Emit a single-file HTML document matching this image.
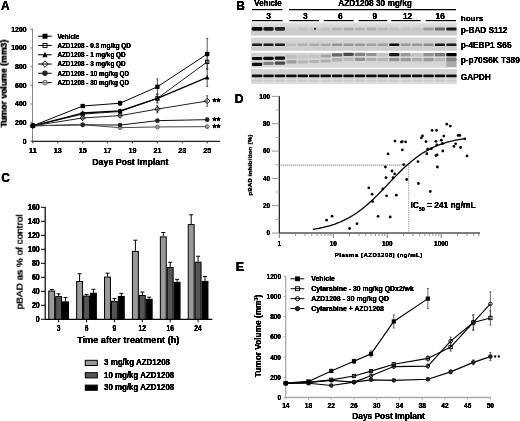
<!DOCTYPE html>
<html><head><meta charset="utf-8"><style>
html,body{margin:0;padding:0;background:#fff;}
svg{display:block;filter:blur(0.35px);}
text{font-family:"Liberation Sans", sans-serif;filter:url(#emb);}
</style></head><body>
<svg width="520" height="421" viewBox="0 0 520 421" font-family='"Liberation Sans", sans-serif'>
<defs>
<linearGradient id="sg0" x1="0" y1="0" x2="0" y2="1"><stop offset="0" stop-color="#e2e2e2"/><stop offset="0.6" stop-color="#cdcdcd"/><stop offset="1" stop-color="#c8c8c8"/></linearGradient>
<linearGradient id="sg1" x1="0" y1="0" x2="0" y2="1"><stop offset="0" stop-color="#d6d6d6"/><stop offset="1" stop-color="#cdcdcd"/></linearGradient>
<linearGradient id="sg2" x1="0" y1="0" x2="0" y2="1"><stop offset="0" stop-color="#d2d2d2"/><stop offset="1" stop-color="#d8d8d8"/></linearGradient>
<linearGradient id="sg3" x1="0" y1="0" x2="0" y2="1"><stop offset="0" stop-color="#cfcfcf"/><stop offset="1" stop-color="#dcdcdc"/></linearGradient>
<filter id="emb" x="-5%" y="-20%" width="110%" height="140%"><feGaussianBlur in="SourceAlpha" stdDeviation="0.3"/><feComponentTransfer><feFuncA type="linear" slope="1.7" intercept="0"/></feComponentTransfer><feComposite in2="SourceAlpha" operator="over"/></filter>
<filter id="blur" x="-5%" y="-50%" width="110%" height="200%"><feGaussianBlur stdDeviation="0.6"/></filter></defs>
<rect width="520" height="421" fill="#fff"/>
<text x="1.00" y="9.60" font-size="12" text-anchor="start" font-weight="bold" fill="#000" >A</text>
<line x1="32.50" y1="28.60" x2="32.50" y2="141.30" stroke="#777" stroke-width="0.9" />
<line x1="30.30" y1="141.30" x2="32.50" y2="141.30" stroke="#777" stroke-width="0.9" />
<text x="26.60" y="143.70" font-size="6.9" text-anchor="end" font-weight="bold" fill="#000" >0</text>
<line x1="30.30" y1="122.63" x2="32.50" y2="122.63" stroke="#777" stroke-width="0.9" />
<text x="26.60" y="125.03" font-size="6.9" text-anchor="end" font-weight="bold" fill="#000" >200</text>
<line x1="30.30" y1="103.97" x2="32.50" y2="103.97" stroke="#777" stroke-width="0.9" />
<text x="26.60" y="106.37" font-size="6.9" text-anchor="end" font-weight="bold" fill="#000" >400</text>
<line x1="30.30" y1="85.30" x2="32.50" y2="85.30" stroke="#777" stroke-width="0.9" />
<text x="26.60" y="87.70" font-size="6.9" text-anchor="end" font-weight="bold" fill="#000" >600</text>
<line x1="30.30" y1="66.64" x2="32.50" y2="66.64" stroke="#777" stroke-width="0.9" />
<text x="26.60" y="69.04" font-size="6.9" text-anchor="end" font-weight="bold" fill="#000" >800</text>
<line x1="30.30" y1="47.97" x2="32.50" y2="47.97" stroke="#777" stroke-width="0.9" />
<text x="26.60" y="50.37" font-size="6.9" text-anchor="end" font-weight="bold" fill="#000" >1000</text>
<line x1="30.30" y1="29.30" x2="32.50" y2="29.30" stroke="#777" stroke-width="0.9" />
<text x="26.60" y="31.70" font-size="6.9" text-anchor="end" font-weight="bold" fill="#000" >1200</text>
<line x1="31.50" y1="141.30" x2="220.20" y2="141.30" stroke="#222" stroke-width="1.2" />
<line x1="32.90" y1="141.30" x2="32.90" y2="143.40" stroke="#222" stroke-width="0.9" />
<text x="32.90" y="152.80" font-size="7.2" text-anchor="middle" font-weight="bold" fill="#000" >11</text>
<line x1="57.80" y1="141.30" x2="57.80" y2="143.40" stroke="#222" stroke-width="0.9" />
<text x="57.80" y="152.80" font-size="7.2" text-anchor="middle" font-weight="bold" fill="#000" >13</text>
<line x1="82.70" y1="141.30" x2="82.70" y2="143.40" stroke="#222" stroke-width="0.9" />
<text x="82.70" y="152.80" font-size="7.2" text-anchor="middle" font-weight="bold" fill="#000" >15</text>
<line x1="107.60" y1="141.30" x2="107.60" y2="143.40" stroke="#222" stroke-width="0.9" />
<text x="107.60" y="152.80" font-size="7.2" text-anchor="middle" font-weight="bold" fill="#000" >17</text>
<line x1="132.50" y1="141.30" x2="132.50" y2="143.40" stroke="#222" stroke-width="0.9" />
<text x="132.50" y="152.80" font-size="7.2" text-anchor="middle" font-weight="bold" fill="#000" >19</text>
<line x1="157.40" y1="141.30" x2="157.40" y2="143.40" stroke="#222" stroke-width="0.9" />
<text x="157.40" y="152.80" font-size="7.2" text-anchor="middle" font-weight="bold" fill="#000" >21</text>
<line x1="182.30" y1="141.30" x2="182.30" y2="143.40" stroke="#222" stroke-width="0.9" />
<text x="182.30" y="152.80" font-size="7.2" text-anchor="middle" font-weight="bold" fill="#000" >23</text>
<line x1="207.20" y1="141.30" x2="207.20" y2="143.40" stroke="#222" stroke-width="0.9" />
<text x="207.20" y="152.80" font-size="7.2" text-anchor="middle" font-weight="bold" fill="#000" >25</text>
<text x="130.40" y="164.80" font-size="8.8" text-anchor="middle" font-weight="bold" fill="#000" >Days Post Implant</text>
<text x="0.00" y="0.00" font-size="8.7" text-anchor="middle" font-weight="bold" fill="#000" transform="translate(6.7,83.6) rotate(-90)">Tumor volume (mm3)</text>
<line x1="82.70" y1="104.71" x2="82.70" y2="107.33" stroke="#444" stroke-width="0.9" />
<line x1="81.70" y1="104.71" x2="83.70" y2="104.71" stroke="#444" stroke-width="0.9" />
<line x1="81.70" y1="107.33" x2="83.70" y2="107.33" stroke="#444" stroke-width="0.9" />
<line x1="120.05" y1="101.17" x2="120.05" y2="105.27" stroke="#444" stroke-width="0.9" />
<line x1="119.05" y1="101.17" x2="121.05" y2="101.17" stroke="#444" stroke-width="0.9" />
<line x1="119.05" y1="105.27" x2="121.05" y2="105.27" stroke="#444" stroke-width="0.9" />
<line x1="157.40" y1="78.86" x2="157.40" y2="94.73" stroke="#444" stroke-width="0.9" />
<line x1="156.40" y1="78.86" x2="158.40" y2="78.86" stroke="#444" stroke-width="0.9" />
<line x1="156.40" y1="94.73" x2="158.40" y2="94.73" stroke="#444" stroke-width="0.9" />
<line x1="207.20" y1="38.36" x2="207.20" y2="69.72" stroke="#444" stroke-width="0.9" />
<line x1="206.20" y1="38.36" x2="208.20" y2="38.36" stroke="#444" stroke-width="0.9" />
<line x1="206.20" y1="69.72" x2="208.20" y2="69.72" stroke="#444" stroke-width="0.9" />
<line x1="82.70" y1="113.11" x2="82.70" y2="114.98" stroke="#444" stroke-width="0.9" />
<line x1="81.70" y1="113.11" x2="83.70" y2="113.11" stroke="#444" stroke-width="0.9" />
<line x1="81.70" y1="114.98" x2="83.70" y2="114.98" stroke="#444" stroke-width="0.9" />
<line x1="120.05" y1="110.22" x2="120.05" y2="112.83" stroke="#444" stroke-width="0.9" />
<line x1="119.05" y1="110.22" x2="121.05" y2="110.22" stroke="#444" stroke-width="0.9" />
<line x1="119.05" y1="112.83" x2="121.05" y2="112.83" stroke="#444" stroke-width="0.9" />
<line x1="157.40" y1="94.64" x2="157.40" y2="102.10" stroke="#444" stroke-width="0.9" />
<line x1="156.40" y1="94.64" x2="158.40" y2="94.64" stroke="#444" stroke-width="0.9" />
<line x1="156.40" y1="102.10" x2="158.40" y2="102.10" stroke="#444" stroke-width="0.9" />
<line x1="207.20" y1="55.34" x2="207.20" y2="68.41" stroke="#444" stroke-width="0.9" />
<line x1="206.20" y1="55.34" x2="208.20" y2="55.34" stroke="#444" stroke-width="0.9" />
<line x1="206.20" y1="68.41" x2="208.20" y2="68.41" stroke="#444" stroke-width="0.9" />
<line x1="82.70" y1="111.90" x2="82.70" y2="114.14" stroke="#444" stroke-width="0.9" />
<line x1="81.70" y1="111.90" x2="83.70" y2="111.90" stroke="#444" stroke-width="0.9" />
<line x1="81.70" y1="114.14" x2="83.70" y2="114.14" stroke="#444" stroke-width="0.9" />
<line x1="120.05" y1="109.66" x2="120.05" y2="112.27" stroke="#444" stroke-width="0.9" />
<line x1="119.05" y1="109.66" x2="121.05" y2="109.66" stroke="#444" stroke-width="0.9" />
<line x1="119.05" y1="112.27" x2="121.05" y2="112.27" stroke="#444" stroke-width="0.9" />
<line x1="157.40" y1="93.70" x2="157.40" y2="103.03" stroke="#444" stroke-width="0.9" />
<line x1="156.40" y1="93.70" x2="158.40" y2="93.70" stroke="#444" stroke-width="0.9" />
<line x1="156.40" y1="103.03" x2="158.40" y2="103.03" stroke="#444" stroke-width="0.9" />
<line x1="207.20" y1="68.60" x2="207.20" y2="86.33" stroke="#444" stroke-width="0.9" />
<line x1="206.20" y1="68.60" x2="208.20" y2="68.60" stroke="#444" stroke-width="0.9" />
<line x1="206.20" y1="86.33" x2="208.20" y2="86.33" stroke="#444" stroke-width="0.9" />
<line x1="82.70" y1="116.85" x2="82.70" y2="119.09" stroke="#444" stroke-width="0.9" />
<line x1="81.70" y1="116.85" x2="83.70" y2="116.85" stroke="#444" stroke-width="0.9" />
<line x1="81.70" y1="119.09" x2="83.70" y2="119.09" stroke="#444" stroke-width="0.9" />
<line x1="120.05" y1="114.33" x2="120.05" y2="116.94" stroke="#444" stroke-width="0.9" />
<line x1="119.05" y1="114.33" x2="121.05" y2="114.33" stroke="#444" stroke-width="0.9" />
<line x1="119.05" y1="116.94" x2="121.05" y2="116.94" stroke="#444" stroke-width="0.9" />
<line x1="157.40" y1="105.37" x2="157.40" y2="112.83" stroke="#444" stroke-width="0.9" />
<line x1="156.40" y1="105.37" x2="158.40" y2="105.37" stroke="#444" stroke-width="0.9" />
<line x1="156.40" y1="112.83" x2="158.40" y2="112.83" stroke="#444" stroke-width="0.9" />
<line x1="207.20" y1="95.75" x2="207.20" y2="106.21" stroke="#444" stroke-width="0.9" />
<line x1="206.20" y1="95.75" x2="208.20" y2="95.75" stroke="#444" stroke-width="0.9" />
<line x1="206.20" y1="106.21" x2="208.20" y2="106.21" stroke="#444" stroke-width="0.9" />
<line x1="82.70" y1="124.03" x2="82.70" y2="125.53" stroke="#444" stroke-width="0.9" />
<line x1="81.70" y1="124.03" x2="83.70" y2="124.03" stroke="#444" stroke-width="0.9" />
<line x1="81.70" y1="125.53" x2="83.70" y2="125.53" stroke="#444" stroke-width="0.9" />
<line x1="120.05" y1="124.31" x2="120.05" y2="125.81" stroke="#444" stroke-width="0.9" />
<line x1="119.05" y1="124.31" x2="121.05" y2="124.31" stroke="#444" stroke-width="0.9" />
<line x1="119.05" y1="125.81" x2="121.05" y2="125.81" stroke="#444" stroke-width="0.9" />
<line x1="157.40" y1="119.74" x2="157.40" y2="121.61" stroke="#444" stroke-width="0.9" />
<line x1="156.40" y1="119.74" x2="158.40" y2="119.74" stroke="#444" stroke-width="0.9" />
<line x1="156.40" y1="121.61" x2="158.40" y2="121.61" stroke="#444" stroke-width="0.9" />
<line x1="207.20" y1="118.53" x2="207.20" y2="120.77" stroke="#444" stroke-width="0.9" />
<line x1="206.20" y1="118.53" x2="208.20" y2="118.53" stroke="#444" stroke-width="0.9" />
<line x1="206.20" y1="120.77" x2="208.20" y2="120.77" stroke="#444" stroke-width="0.9" />
<line x1="82.70" y1="124.03" x2="82.70" y2="125.53" stroke="#444" stroke-width="0.9" />
<line x1="81.70" y1="124.03" x2="83.70" y2="124.03" stroke="#444" stroke-width="0.9" />
<line x1="81.70" y1="125.53" x2="83.70" y2="125.53" stroke="#444" stroke-width="0.9" />
<line x1="120.05" y1="126.93" x2="120.05" y2="128.42" stroke="#444" stroke-width="0.9" />
<line x1="119.05" y1="126.93" x2="121.05" y2="126.93" stroke="#444" stroke-width="0.9" />
<line x1="119.05" y1="128.42" x2="121.05" y2="128.42" stroke="#444" stroke-width="0.9" />
<line x1="157.40" y1="126.18" x2="157.40" y2="127.67" stroke="#444" stroke-width="0.9" />
<line x1="156.40" y1="126.18" x2="158.40" y2="126.18" stroke="#444" stroke-width="0.9" />
<line x1="156.40" y1="127.67" x2="158.40" y2="127.67" stroke="#444" stroke-width="0.9" />
<line x1="207.20" y1="125.71" x2="207.20" y2="127.58" stroke="#444" stroke-width="0.9" />
<line x1="206.20" y1="125.71" x2="208.20" y2="125.71" stroke="#444" stroke-width="0.9" />
<line x1="206.20" y1="127.58" x2="208.20" y2="127.58" stroke="#444" stroke-width="0.9" />
<polyline points="32.90,125.81 82.70,106.02 120.05,103.22 157.40,86.80 207.20,54.04" fill="none" stroke="#000" stroke-width="1.0" stroke-linejoin="round" />
<polyline points="32.90,125.81 82.70,114.05 120.05,111.53 157.40,98.37 207.20,61.88" fill="none" stroke="#222" stroke-width="1.0" stroke-linejoin="round" />
<polyline points="32.90,125.81 82.70,113.02 120.05,110.97 157.40,98.37 207.20,77.46" fill="none" stroke="#000" stroke-width="1.3" stroke-linejoin="round" />
<polyline points="32.90,125.81 82.70,117.97 120.05,115.63 157.40,109.10 207.20,100.98" fill="none" stroke="#222" stroke-width="1.0" stroke-linejoin="round" />
<polyline points="32.90,125.81 82.70,124.78 120.05,125.06 157.40,120.67 207.20,119.65" fill="none" stroke="#111" stroke-width="1.0" stroke-linejoin="round" />
<polyline points="32.90,125.81 82.70,124.78 120.05,127.67 157.40,126.93 207.20,126.65" fill="none" stroke="#444" stroke-width="1.0" stroke-linejoin="round" />
<circle cx="32.90" cy="125.81" r="1.95" fill="#bbb" fill-opacity="0.6" stroke="#555" stroke-width="0.9"/>
<circle cx="82.70" cy="124.78" r="1.95" fill="#bbb" fill-opacity="0.6" stroke="#555" stroke-width="0.9"/>
<circle cx="120.05" cy="127.67" r="1.95" fill="#bbb" fill-opacity="0.6" stroke="#555" stroke-width="0.9"/>
<circle cx="157.40" cy="126.93" r="1.95" fill="#bbb" fill-opacity="0.6" stroke="#555" stroke-width="0.9"/>
<circle cx="207.20" cy="126.65" r="1.95" fill="#bbb" fill-opacity="0.6" stroke="#555" stroke-width="0.9"/>
<circle cx="32.90" cy="125.81" r="2.35" fill="#222"/>
<circle cx="82.70" cy="124.78" r="2.35" fill="#222"/>
<circle cx="120.05" cy="125.06" r="2.35" fill="#222"/>
<circle cx="157.40" cy="120.67" r="2.35" fill="#222"/>
<circle cx="207.20" cy="119.65" r="2.35" fill="#222"/>
<polygon points="32.90,123.09 35.62,125.81 32.90,128.52 30.18,125.81" fill="none" stroke="#000" stroke-width="0.9"/>
<polygon points="82.70,115.25 85.42,117.97 82.70,120.69 79.98,117.97" fill="none" stroke="#000" stroke-width="0.9"/>
<polygon points="120.05,112.92 122.77,115.63 120.05,118.35 117.33,115.63" fill="none" stroke="#000" stroke-width="0.9"/>
<polygon points="157.40,106.38 160.12,109.10 157.40,111.82 154.68,109.10" fill="none" stroke="#000" stroke-width="0.9"/>
<polygon points="207.20,98.26 209.92,100.98 207.20,103.70 204.48,100.98" fill="none" stroke="#000" stroke-width="0.9"/>
<polygon points="32.90,123.12 35.16,127.96 30.64,127.96" fill="#000"/>
<polygon points="82.70,110.33 84.96,115.17 80.44,115.17" fill="#000"/>
<polygon points="120.05,108.28 122.31,113.12 117.79,113.12" fill="#000"/>
<polygon points="157.40,95.68 159.66,100.52 155.14,100.52" fill="#000"/>
<polygon points="207.20,74.77 209.46,79.61 204.94,79.61" fill="#000"/>
<rect x="31.20" y="124.11" width="3.40" height="3.40" fill="none" stroke="#000" stroke-width="0.9"/>
<rect x="81.00" y="112.35" width="3.40" height="3.40" fill="none" stroke="#000" stroke-width="0.9"/>
<rect x="118.35" y="109.83" width="3.40" height="3.40" fill="none" stroke="#000" stroke-width="0.9"/>
<rect x="155.70" y="96.67" width="3.40" height="3.40" fill="none" stroke="#000" stroke-width="0.9"/>
<rect x="205.50" y="60.18" width="3.40" height="3.40" fill="none" stroke="#000" stroke-width="0.9"/>
<rect x="30.75" y="123.66" width="4.30" height="4.30" fill="#000"/>
<rect x="80.55" y="103.87" width="4.30" height="4.30" fill="#000"/>
<rect x="117.90" y="101.07" width="4.30" height="4.30" fill="#000"/>
<rect x="155.25" y="84.65" width="4.30" height="4.30" fill="#000"/>
<rect x="205.05" y="51.89" width="4.30" height="4.30" fill="#000"/>
<text x="212.50" y="105.58" font-size="10" text-anchor="start" font-weight="bold" fill="#000" >**</text>
<text x="212.50" y="125.15" font-size="10" text-anchor="start" font-weight="bold" fill="#000" >**</text>
<text x="212.50" y="131.65" font-size="10" text-anchor="start" font-weight="bold" fill="#000" >**</text>
<line x1="38.10" y1="36.20" x2="51.70" y2="36.20" stroke="#111" stroke-width="1.1" />
<rect x="42.50" y="33.70" width="5.00" height="5.00" fill="#000"/>
<text x="57.40" y="38.50" font-size="6.37" text-anchor="start" font-weight="bold" fill="#000" >Vehicle</text>
<line x1="38.10" y1="45.48" x2="51.70" y2="45.48" stroke="#111" stroke-width="1.1" />
<rect x="42.95" y="43.43" width="4.10" height="4.10" fill="none" stroke="#000" stroke-width="0.9"/>
<text x="57.40" y="47.78" font-size="6.37" text-anchor="start" font-weight="bold" fill="#000" >AZD1208 - 0.3 mg/kg QD</text>
<line x1="38.10" y1="54.76" x2="51.70" y2="54.76" stroke="#111" stroke-width="1.1" />
<polygon points="45.00,51.64 47.62,57.26 42.38,57.26" fill="#000"/>
<text x="57.40" y="57.06" font-size="6.37" text-anchor="start" font-weight="bold" fill="#000" >AZD1208 - 1 mg/kg QD</text>
<line x1="38.10" y1="64.04" x2="51.70" y2="64.04" stroke="#111" stroke-width="1.1" />
<polygon points="45.00,60.81 48.23,64.04 45.00,67.26 41.77,64.04" fill="none" stroke="#000" stroke-width="0.9"/>
<text x="57.40" y="66.34" font-size="6.37" text-anchor="start" font-weight="bold" fill="#000" >AZD1208 - 3 mg/kg QD</text>
<line x1="38.10" y1="73.32" x2="51.70" y2="73.32" stroke="#111" stroke-width="1.1" />
<circle cx="45.00" cy="73.32" r="2.70" fill="#222"/>
<text x="57.40" y="75.62" font-size="6.37" text-anchor="start" font-weight="bold" fill="#000" >AZD1208 - 10 mg/kg QD</text>
<line x1="38.10" y1="82.60" x2="51.70" y2="82.60" stroke="#111" stroke-width="1.1" />
<circle cx="45.00" cy="82.60" r="2.30" fill="#bbb" fill-opacity="0.6" stroke="#555" stroke-width="0.9"/>
<text x="57.40" y="84.90" font-size="6.37" text-anchor="start" font-weight="bold" fill="#000" >AZD1208 - 30 mg/kg QD</text>
<text x="236.20" y="9.60" font-size="12" text-anchor="start" font-weight="bold" fill="#000" >B</text>
<text x="254.30" y="5.90" font-size="8.8" text-anchor="start" font-weight="bold" fill="#000" textLength="27.3" lengthAdjust="spacingAndGlyphs">Vehicle</text>
<text x="338.30" y="5.60" font-size="8.9" text-anchor="start" font-weight="bold" fill="#000" textLength="73.5" lengthAdjust="spacingAndGlyphs">AZD1208 30 mg/kg</text>
<line x1="252.10" y1="9.60" x2="282.50" y2="9.60" stroke="#000" stroke-width="1.2" />
<line x1="288.90" y1="9.60" x2="456.00" y2="9.60" stroke="#000" stroke-width="1.2" />
<text x="268.60" y="19.00" font-size="8.3" text-anchor="middle" font-weight="bold" fill="#000" >3</text>
<line x1="252.10" y1="20.60" x2="282.50" y2="20.60" stroke="#000" stroke-width="1.2" />
<text x="305.20" y="19.00" font-size="8.3" text-anchor="middle" font-weight="bold" fill="#000" >3</text>
<line x1="289.40" y1="20.60" x2="319.00" y2="20.60" stroke="#000" stroke-width="1.2" />
<text x="340.20" y="19.00" font-size="8.3" text-anchor="middle" font-weight="bold" fill="#000" >6</text>
<line x1="323.80" y1="20.60" x2="353.70" y2="20.60" stroke="#000" stroke-width="1.2" />
<text x="374.80" y="19.00" font-size="8.3" text-anchor="middle" font-weight="bold" fill="#000" >9</text>
<line x1="358.50" y1="20.60" x2="387.30" y2="20.60" stroke="#000" stroke-width="1.2" />
<text x="407.50" y="19.00" font-size="8.3" text-anchor="middle" font-weight="bold" fill="#000" >12</text>
<line x1="391.20" y1="20.60" x2="420.70" y2="20.60" stroke="#000" stroke-width="1.2" />
<text x="440.20" y="19.00" font-size="8.3" text-anchor="middle" font-weight="bold" fill="#000" >16</text>
<line x1="425.70" y1="20.60" x2="456.00" y2="20.60" stroke="#000" stroke-width="1.2" />
<text x="460.70" y="21.40" font-size="8.1" text-anchor="start" font-weight="bold" fill="#000" >hours</text>
<text x="460.70" y="32.50" font-size="8.24" text-anchor="start" font-weight="bold" fill="#000" >p-BAD S112</text>
<text x="460.70" y="47.80" font-size="8.24" text-anchor="start" font-weight="bold" fill="#000" >p-4EBP1 S65</text>
<text x="460.70" y="62.60" font-size="8.24" text-anchor="start" font-weight="bold" fill="#000" >p-p70S6K T389</text>
<text x="460.70" y="79.70" font-size="8.3" text-anchor="start" font-weight="bold" fill="#000" >GAPDH</text>
<rect x="251.0" y="22.4" width="205.8" height="13.10" fill="url(#sg0)"/>
<rect x="251.0" y="37.6" width="205.8" height="13.20" fill="url(#sg1)"/>
<rect x="251.0" y="52.8" width="205.8" height="14.80" fill="url(#sg2)"/>
<rect x="251.0" y="69.2" width="205.8" height="14.90" fill="url(#sg3)"/>
<g filter="url(#blur)">
<rect x="251.70" y="27.10" width="10.80" height="3.60" rx="1.44" fill="rgb(0,0,0)" opacity="1.00"/>
<rect x="252.00" y="43.45" width="10.20" height="2.50" rx="1.00" fill="rgb(29,29,29)" opacity="1.00"/>
<rect x="251.90" y="56.90" width="10.40" height="3.20" rx="1.28" fill="rgb(9,9,9)" opacity="1.00"/>
<rect x="251.90" y="62.80" width="10.40" height="3.20" rx="1.28" fill="rgb(9,9,9)" opacity="1.00"/>
<rect x="251.80" y="74.50" width="10.60" height="2.80" rx="1.12" fill="rgb(15,15,15)" opacity="1.00"/>
<rect x="252.10" y="79.70" width="10.00" height="1.80" rx="0.72" fill="rgb(171,171,171)" opacity="0.32"/>
<rect x="263.43" y="27.10" width="10.20" height="3.60" rx="1.44" fill="rgb(29,29,29)" opacity="1.00"/>
<rect x="263.43" y="43.45" width="10.20" height="2.50" rx="1.00" fill="rgb(29,29,29)" opacity="1.00"/>
<rect x="263.33" y="56.80" width="10.40" height="3.20" rx="1.28" fill="rgb(9,9,9)" opacity="1.00"/>
<rect x="263.33" y="61.80" width="10.40" height="3.20" rx="1.28" fill="rgb(97,97,97)" opacity="0.70"/>
<rect x="263.23" y="74.50" width="10.60" height="2.80" rx="1.12" fill="rgb(15,15,15)" opacity="1.00"/>
<rect x="263.53" y="79.70" width="10.00" height="1.80" rx="0.72" fill="rgb(171,171,171)" opacity="0.32"/>
<rect x="274.86" y="27.10" width="10.20" height="3.60" rx="1.44" fill="rgb(39,39,39)" opacity="1.00"/>
<rect x="274.86" y="43.45" width="10.20" height="2.50" rx="1.00" fill="rgb(29,29,29)" opacity="1.00"/>
<rect x="274.76" y="56.60" width="10.40" height="3.20" rx="1.28" fill="rgb(9,9,9)" opacity="1.00"/>
<rect x="274.76" y="61.60" width="10.40" height="3.20" rx="1.28" fill="rgb(58,58,58)" opacity="0.90"/>
<rect x="274.66" y="74.50" width="10.60" height="2.80" rx="1.12" fill="rgb(15,15,15)" opacity="1.00"/>
<rect x="274.96" y="79.70" width="10.00" height="1.80" rx="0.72" fill="rgb(171,171,171)" opacity="0.32"/>
<rect x="286.29" y="27.40" width="10.20" height="3.00" rx="1.20" fill="rgb(189,189,189)" opacity="0.23"/>
<rect x="286.29" y="43.45" width="10.20" height="2.50" rx="1.00" fill="rgb(156,156,156)" opacity="0.40"/>
<rect x="286.19" y="55.20" width="10.40" height="3.20" rx="1.28" fill="rgb(156,156,156)" opacity="0.40"/>
<rect x="286.19" y="60.20" width="10.40" height="3.20" rx="1.28" fill="rgb(117,117,117)" opacity="0.60"/>
<rect x="286.09" y="74.50" width="10.60" height="2.80" rx="1.12" fill="rgb(15,15,15)" opacity="1.00"/>
<rect x="286.39" y="79.70" width="10.00" height="1.80" rx="0.72" fill="rgb(171,171,171)" opacity="0.32"/>
<rect x="297.72" y="27.40" width="10.20" height="3.00" rx="1.20" fill="rgb(171,171,171)" opacity="0.32"/>
<rect x="297.72" y="43.45" width="10.20" height="2.50" rx="1.00" fill="rgb(140,140,140)" opacity="0.48"/>
<rect x="297.62" y="55.20" width="10.40" height="3.20" rx="1.28" fill="rgb(175,175,175)" opacity="0.30"/>
<rect x="297.62" y="60.20" width="10.40" height="3.20" rx="1.28" fill="rgb(146,146,146)" opacity="0.45"/>
<rect x="297.52" y="74.50" width="10.60" height="2.80" rx="1.12" fill="rgb(15,15,15)" opacity="1.00"/>
<rect x="297.82" y="79.70" width="10.00" height="1.80" rx="0.72" fill="rgb(171,171,171)" opacity="0.32"/>
<rect x="309.15" y="27.40" width="10.20" height="3.00" rx="1.20" fill="rgb(175,175,175)" opacity="0.30"/>
<rect x="309.15" y="43.45" width="10.20" height="2.50" rx="1.00" fill="rgb(136,136,136)" opacity="0.50"/>
<rect x="309.05" y="54.90" width="10.40" height="3.20" rx="1.28" fill="rgb(165,165,165)" opacity="0.35"/>
<rect x="309.05" y="59.90" width="10.40" height="3.20" rx="1.28" fill="rgb(146,146,146)" opacity="0.45"/>
<rect x="308.95" y="74.50" width="10.60" height="2.80" rx="1.12" fill="rgb(15,15,15)" opacity="1.00"/>
<rect x="309.25" y="79.70" width="10.00" height="1.80" rx="0.72" fill="rgb(171,171,171)" opacity="0.32"/>
<rect x="320.58" y="27.40" width="10.20" height="3.00" rx="1.20" fill="rgb(171,171,171)" opacity="0.32"/>
<rect x="320.58" y="43.45" width="10.20" height="2.50" rx="1.00" fill="rgb(132,132,132)" opacity="0.52"/>
<rect x="320.48" y="54.40" width="10.40" height="3.20" rx="1.28" fill="rgb(126,126,126)" opacity="0.55"/>
<rect x="320.48" y="59.40" width="10.40" height="3.20" rx="1.28" fill="rgb(136,136,136)" opacity="0.50"/>
<rect x="320.38" y="74.50" width="10.60" height="2.80" rx="1.12" fill="rgb(15,15,15)" opacity="1.00"/>
<rect x="320.68" y="79.70" width="10.00" height="1.80" rx="0.72" fill="rgb(171,171,171)" opacity="0.32"/>
<rect x="332.01" y="27.40" width="10.20" height="3.00" rx="1.20" fill="rgb(146,146,146)" opacity="0.45"/>
<rect x="332.01" y="43.45" width="10.20" height="2.50" rx="1.00" fill="rgb(113,113,113)" opacity="0.62"/>
<rect x="331.91" y="53.30" width="10.40" height="3.20" rx="1.28" fill="rgb(78,78,78)" opacity="0.80"/>
<rect x="331.91" y="58.30" width="10.40" height="3.20" rx="1.28" fill="rgb(136,136,136)" opacity="0.50"/>
<rect x="331.81" y="74.50" width="10.60" height="2.80" rx="1.12" fill="rgb(15,15,15)" opacity="1.00"/>
<rect x="332.11" y="79.70" width="10.00" height="1.80" rx="0.72" fill="rgb(171,171,171)" opacity="0.32"/>
<rect x="343.44" y="27.40" width="10.20" height="3.00" rx="1.20" fill="rgb(136,136,136)" opacity="0.50"/>
<rect x="343.44" y="43.45" width="10.20" height="2.50" rx="1.00" fill="rgb(113,113,113)" opacity="0.62"/>
<rect x="343.34" y="52.80" width="10.40" height="3.20" rx="1.28" fill="rgb(58,58,58)" opacity="0.90"/>
<rect x="343.34" y="57.80" width="10.40" height="3.20" rx="1.28" fill="rgb(146,146,146)" opacity="0.45"/>
<rect x="343.24" y="74.50" width="10.60" height="2.80" rx="1.12" fill="rgb(15,15,15)" opacity="1.00"/>
<rect x="343.54" y="79.70" width="10.00" height="1.80" rx="0.72" fill="rgb(171,171,171)" opacity="0.32"/>
<rect x="354.87" y="27.40" width="10.20" height="3.00" rx="1.20" fill="rgb(146,146,146)" opacity="0.45"/>
<rect x="354.87" y="43.45" width="10.20" height="2.50" rx="1.00" fill="rgb(117,117,117)" opacity="0.60"/>
<rect x="354.77" y="52.80" width="10.40" height="3.20" rx="1.28" fill="rgb(97,97,97)" opacity="0.70"/>
<rect x="354.77" y="57.80" width="10.40" height="3.20" rx="1.28" fill="rgb(107,107,107)" opacity="0.65"/>
<rect x="354.67" y="74.50" width="10.60" height="2.80" rx="1.12" fill="rgb(15,15,15)" opacity="1.00"/>
<rect x="354.97" y="79.70" width="10.00" height="1.80" rx="0.72" fill="rgb(171,171,171)" opacity="0.32"/>
<rect x="366.30" y="27.40" width="10.20" height="3.00" rx="1.20" fill="rgb(140,140,140)" opacity="0.48"/>
<rect x="366.30" y="43.45" width="10.20" height="2.50" rx="1.00" fill="rgb(126,126,126)" opacity="0.55"/>
<rect x="366.20" y="52.90" width="10.40" height="3.20" rx="1.28" fill="rgb(107,107,107)" opacity="0.65"/>
<rect x="366.20" y="57.90" width="10.40" height="3.20" rx="1.28" fill="rgb(136,136,136)" opacity="0.50"/>
<rect x="366.10" y="74.50" width="10.60" height="2.80" rx="1.12" fill="rgb(15,15,15)" opacity="1.00"/>
<rect x="366.40" y="79.70" width="10.00" height="1.80" rx="0.72" fill="rgb(171,171,171)" opacity="0.32"/>
<rect x="377.73" y="27.40" width="10.20" height="3.00" rx="1.20" fill="rgb(152,152,152)" opacity="0.42"/>
<rect x="377.73" y="43.45" width="10.20" height="2.50" rx="1.00" fill="rgb(120,120,120)" opacity="0.58"/>
<rect x="377.63" y="53.00" width="10.40" height="3.20" rx="1.28" fill="rgb(165,165,165)" opacity="0.35"/>
<rect x="377.63" y="58.00" width="10.40" height="3.20" rx="1.28" fill="rgb(146,146,146)" opacity="0.45"/>
<rect x="377.53" y="74.50" width="10.60" height="2.80" rx="1.12" fill="rgb(15,15,15)" opacity="1.00"/>
<rect x="377.83" y="79.70" width="10.00" height="1.80" rx="0.72" fill="rgb(171,171,171)" opacity="0.32"/>
<rect x="389.16" y="27.40" width="10.20" height="3.00" rx="1.20" fill="rgb(165,165,165)" opacity="0.35"/>
<rect x="389.16" y="43.45" width="10.20" height="2.50" rx="1.00" fill="rgb(9,9,9)" opacity="1.00"/>
<rect x="389.06" y="53.10" width="10.40" height="3.20" rx="1.28" fill="rgb(29,29,29)" opacity="1.00"/>
<rect x="389.06" y="58.10" width="10.40" height="3.20" rx="1.28" fill="rgb(107,107,107)" opacity="0.65"/>
<rect x="388.96" y="74.50" width="10.60" height="2.80" rx="1.12" fill="rgb(15,15,15)" opacity="1.00"/>
<rect x="389.26" y="79.70" width="10.00" height="1.80" rx="0.72" fill="rgb(171,171,171)" opacity="0.32"/>
<rect x="400.59" y="27.40" width="10.20" height="3.00" rx="1.20" fill="rgb(175,175,175)" opacity="0.30"/>
<rect x="400.59" y="43.45" width="10.20" height="2.50" rx="1.00" fill="rgb(117,117,117)" opacity="0.60"/>
<rect x="400.49" y="53.10" width="10.40" height="3.20" rx="1.28" fill="rgb(117,117,117)" opacity="0.60"/>
<rect x="400.49" y="58.10" width="10.40" height="3.20" rx="1.28" fill="rgb(117,117,117)" opacity="0.60"/>
<rect x="400.39" y="74.50" width="10.60" height="2.80" rx="1.12" fill="rgb(15,15,15)" opacity="1.00"/>
<rect x="400.69" y="79.70" width="10.00" height="1.80" rx="0.72" fill="rgb(171,171,171)" opacity="0.32"/>
<rect x="412.02" y="27.40" width="10.20" height="3.00" rx="1.20" fill="rgb(175,175,175)" opacity="0.30"/>
<rect x="412.02" y="43.45" width="10.20" height="2.50" rx="1.00" fill="rgb(117,117,117)" opacity="0.60"/>
<rect x="411.92" y="53.10" width="10.40" height="3.20" rx="1.28" fill="rgb(165,165,165)" opacity="0.35"/>
<rect x="411.92" y="58.10" width="10.40" height="3.20" rx="1.28" fill="rgb(136,136,136)" opacity="0.50"/>
<rect x="411.82" y="74.50" width="10.60" height="2.80" rx="1.12" fill="rgb(15,15,15)" opacity="1.00"/>
<rect x="412.12" y="79.70" width="10.00" height="1.80" rx="0.72" fill="rgb(171,171,171)" opacity="0.32"/>
<rect x="423.45" y="27.40" width="10.20" height="3.00" rx="1.20" fill="rgb(117,117,117)" opacity="0.60"/>
<rect x="423.45" y="43.45" width="10.20" height="2.50" rx="1.00" fill="rgb(107,107,107)" opacity="0.65"/>
<rect x="423.35" y="53.10" width="10.40" height="3.20" rx="1.28" fill="rgb(107,107,107)" opacity="0.65"/>
<rect x="423.35" y="58.10" width="10.40" height="3.20" rx="1.28" fill="rgb(117,117,117)" opacity="0.60"/>
<rect x="423.25" y="74.50" width="10.60" height="2.80" rx="1.12" fill="rgb(15,15,15)" opacity="1.00"/>
<rect x="423.55" y="79.70" width="10.00" height="1.80" rx="0.72" fill="rgb(171,171,171)" opacity="0.32"/>
<rect x="434.88" y="27.40" width="10.20" height="3.00" rx="1.20" fill="rgb(78,78,78)" opacity="0.80"/>
<rect x="434.88" y="43.45" width="10.20" height="2.50" rx="1.00" fill="rgb(19,19,19)" opacity="1.00"/>
<rect x="434.78" y="53.10" width="10.40" height="3.20" rx="1.28" fill="rgb(87,87,87)" opacity="0.75"/>
<rect x="434.78" y="58.10" width="10.40" height="3.20" rx="1.28" fill="rgb(146,146,146)" opacity="0.45"/>
<rect x="434.68" y="74.50" width="10.60" height="2.80" rx="1.12" fill="rgb(15,15,15)" opacity="1.00"/>
<rect x="434.98" y="79.70" width="10.00" height="1.80" rx="0.72" fill="rgb(171,171,171)" opacity="0.32"/>
<rect x="446.31" y="27.40" width="10.20" height="3.00" rx="1.20" fill="rgb(19,19,19)" opacity="1.00"/>
<rect x="446.31" y="43.45" width="10.20" height="2.50" rx="1.00" fill="rgb(29,29,29)" opacity="1.00"/>
<rect x="446.21" y="53.10" width="10.40" height="3.20" rx="1.28" fill="rgb(0,0,0)" opacity="1.00"/>
<rect x="446.21" y="58.10" width="10.40" height="3.20" rx="1.28" fill="rgb(107,107,107)" opacity="0.65"/>
<rect x="446.11" y="74.50" width="10.60" height="2.80" rx="1.12" fill="rgb(15,15,15)" opacity="1.00"/>
<rect x="446.41" y="79.70" width="10.00" height="1.80" rx="0.72" fill="rgb(171,171,171)" opacity="0.32"/>
<circle cx="315.0" cy="28.8" r="1.1" fill="#222"/>
<rect x="446.3" y="56.5" width="10" height="10.5" fill="#777" opacity="0.45"/>
</g>
<text x="1.20" y="182.30" font-size="12" text-anchor="start" font-weight="bold" fill="#000" >C</text>
<line x1="45.20" y1="207.00" x2="45.20" y2="319.30" stroke="#000" stroke-width="1.2" />
<line x1="41.00" y1="319.30" x2="45.20" y2="319.30" stroke="#000" stroke-width="1.0" />
<text x="39.80" y="322.20" font-size="8.2" text-anchor="end" font-weight="bold" fill="#000" textLength="3.93" lengthAdjust="spacingAndGlyphs">0</text>
<line x1="41.00" y1="305.30" x2="45.20" y2="305.30" stroke="#000" stroke-width="1.0" />
<text x="39.80" y="308.20" font-size="8.2" text-anchor="end" font-weight="bold" fill="#000" textLength="7.86" lengthAdjust="spacingAndGlyphs">20</text>
<line x1="41.00" y1="291.30" x2="45.20" y2="291.30" stroke="#000" stroke-width="1.0" />
<text x="39.80" y="294.20" font-size="8.2" text-anchor="end" font-weight="bold" fill="#000" textLength="7.86" lengthAdjust="spacingAndGlyphs">40</text>
<line x1="41.00" y1="277.30" x2="45.20" y2="277.30" stroke="#000" stroke-width="1.0" />
<text x="39.80" y="280.20" font-size="8.2" text-anchor="end" font-weight="bold" fill="#000" textLength="7.86" lengthAdjust="spacingAndGlyphs">60</text>
<line x1="41.00" y1="263.30" x2="45.20" y2="263.30" stroke="#000" stroke-width="1.0" />
<text x="39.80" y="266.20" font-size="8.2" text-anchor="end" font-weight="bold" fill="#000" textLength="7.86" lengthAdjust="spacingAndGlyphs">80</text>
<line x1="41.00" y1="249.30" x2="45.20" y2="249.30" stroke="#000" stroke-width="1.0" />
<text x="39.80" y="252.20" font-size="8.2" text-anchor="end" font-weight="bold" fill="#000" textLength="11.79" lengthAdjust="spacingAndGlyphs">100</text>
<line x1="41.00" y1="235.30" x2="45.20" y2="235.30" stroke="#000" stroke-width="1.0" />
<text x="39.80" y="238.20" font-size="8.2" text-anchor="end" font-weight="bold" fill="#000" textLength="11.79" lengthAdjust="spacingAndGlyphs">120</text>
<line x1="41.00" y1="221.30" x2="45.20" y2="221.30" stroke="#000" stroke-width="1.0" />
<text x="39.80" y="224.20" font-size="8.2" text-anchor="end" font-weight="bold" fill="#000" textLength="11.79" lengthAdjust="spacingAndGlyphs">140</text>
<line x1="41.00" y1="207.30" x2="45.20" y2="207.30" stroke="#000" stroke-width="1.0" />
<text x="39.80" y="210.20" font-size="8.2" text-anchor="end" font-weight="bold" fill="#000" textLength="11.79" lengthAdjust="spacingAndGlyphs">160</text>
<line x1="45.20" y1="319.30" x2="212.30" y2="319.30" stroke="#000" stroke-width="1.2" />
<line x1="58.60" y1="319.30" x2="58.60" y2="322.30" stroke="#000" stroke-width="1.0" />
<text x="58.60" y="330.60" font-size="8.4" text-anchor="middle" font-weight="bold" fill="#000" textLength="3.75" lengthAdjust="spacingAndGlyphs">3</text>
<line x1="51.70" y1="290.60" x2="51.70" y2="289.55" stroke="#000" stroke-width="1.0" />
<line x1="49.70" y1="289.55" x2="53.70" y2="289.55" stroke="#000" stroke-width="1.0" />
<rect x="48.75" y="291.10" width="5.90" height="28.20" fill="#9a9a9a" stroke="#000" stroke-width="1"/>
<line x1="58.60" y1="296.13" x2="58.60" y2="293.82" stroke="#000" stroke-width="1.0" />
<line x1="56.60" y1="293.82" x2="60.60" y2="293.82" stroke="#000" stroke-width="1.0" />
<rect x="55.65" y="296.63" width="5.90" height="22.67" fill="#555" stroke="#000" stroke-width="1"/>
<line x1="65.50" y1="301.38" x2="65.50" y2="297.53" stroke="#000" stroke-width="1.0" />
<line x1="63.50" y1="297.53" x2="67.50" y2="297.53" stroke="#000" stroke-width="1.0" />
<rect x="62.55" y="301.88" width="5.90" height="17.42" fill="#000" stroke="#000" stroke-width="1"/>
<line x1="86.50" y1="319.30" x2="86.50" y2="322.30" stroke="#000" stroke-width="1.0" />
<text x="86.50" y="330.60" font-size="8.4" text-anchor="middle" font-weight="bold" fill="#000" textLength="3.75" lengthAdjust="spacingAndGlyphs">6</text>
<line x1="79.60" y1="281.01" x2="79.60" y2="273.73" stroke="#000" stroke-width="1.0" />
<line x1="77.60" y1="273.73" x2="81.60" y2="273.73" stroke="#000" stroke-width="1.0" />
<rect x="76.65" y="281.51" width="5.90" height="37.79" fill="#9a9a9a" stroke="#000" stroke-width="1"/>
<line x1="86.50" y1="295.57" x2="86.50" y2="294.45" stroke="#000" stroke-width="1.0" />
<line x1="84.50" y1="294.45" x2="88.50" y2="294.45" stroke="#000" stroke-width="1.0" />
<rect x="83.55" y="296.07" width="5.90" height="23.23" fill="#555" stroke="#000" stroke-width="1"/>
<line x1="93.40" y1="292.70" x2="93.40" y2="289.27" stroke="#000" stroke-width="1.0" />
<line x1="91.40" y1="289.27" x2="95.40" y2="289.27" stroke="#000" stroke-width="1.0" />
<rect x="90.45" y="293.20" width="5.90" height="26.10" fill="#000" stroke="#000" stroke-width="1"/>
<line x1="114.40" y1="319.30" x2="114.40" y2="322.30" stroke="#000" stroke-width="1.0" />
<text x="114.40" y="330.60" font-size="8.4" text-anchor="middle" font-weight="bold" fill="#000" textLength="3.75" lengthAdjust="spacingAndGlyphs">9</text>
<line x1="107.50" y1="276.60" x2="107.50" y2="273.17" stroke="#000" stroke-width="1.0" />
<line x1="105.50" y1="273.17" x2="109.50" y2="273.17" stroke="#000" stroke-width="1.0" />
<rect x="104.55" y="277.10" width="5.90" height="42.20" fill="#9a9a9a" stroke="#000" stroke-width="1"/>
<line x1="114.40" y1="300.89" x2="114.40" y2="298.58" stroke="#000" stroke-width="1.0" />
<line x1="112.40" y1="298.58" x2="116.40" y2="298.58" stroke="#000" stroke-width="1.0" />
<rect x="111.45" y="301.39" width="5.90" height="17.91" fill="#555" stroke="#000" stroke-width="1"/>
<line x1="121.30" y1="295.99" x2="121.30" y2="293.33" stroke="#000" stroke-width="1.0" />
<line x1="119.30" y1="293.33" x2="123.30" y2="293.33" stroke="#000" stroke-width="1.0" />
<rect x="118.35" y="296.49" width="5.90" height="22.81" fill="#000" stroke="#000" stroke-width="1"/>
<line x1="142.30" y1="319.30" x2="142.30" y2="322.30" stroke="#000" stroke-width="1.0" />
<text x="142.30" y="330.60" font-size="8.4" text-anchor="middle" font-weight="bold" fill="#000" textLength="7.50" lengthAdjust="spacingAndGlyphs">12</text>
<line x1="135.40" y1="250.91" x2="135.40" y2="240.20" stroke="#000" stroke-width="1.0" />
<line x1="133.40" y1="240.20" x2="137.40" y2="240.20" stroke="#000" stroke-width="1.0" />
<rect x="132.45" y="251.41" width="5.90" height="67.89" fill="#9a9a9a" stroke="#000" stroke-width="1"/>
<line x1="142.30" y1="295.01" x2="142.30" y2="292.00" stroke="#000" stroke-width="1.0" />
<line x1="140.30" y1="292.00" x2="144.30" y2="292.00" stroke="#000" stroke-width="1.0" />
<rect x="139.35" y="295.51" width="5.90" height="23.79" fill="#555" stroke="#000" stroke-width="1"/>
<line x1="149.20" y1="298.79" x2="149.20" y2="297.18" stroke="#000" stroke-width="1.0" />
<line x1="147.20" y1="297.18" x2="151.20" y2="297.18" stroke="#000" stroke-width="1.0" />
<rect x="146.25" y="299.29" width="5.90" height="20.01" fill="#000" stroke="#000" stroke-width="1"/>
<line x1="170.20" y1="319.30" x2="170.20" y2="322.30" stroke="#000" stroke-width="1.0" />
<text x="170.20" y="330.60" font-size="8.4" text-anchor="middle" font-weight="bold" fill="#000" textLength="7.50" lengthAdjust="spacingAndGlyphs">16</text>
<line x1="163.30" y1="236.42" x2="163.30" y2="232.50" stroke="#000" stroke-width="1.0" />
<line x1="161.30" y1="232.50" x2="165.30" y2="232.50" stroke="#000" stroke-width="1.0" />
<rect x="160.35" y="236.92" width="5.90" height="82.38" fill="#9a9a9a" stroke="#000" stroke-width="1"/>
<line x1="170.20" y1="267.01" x2="170.20" y2="262.32" stroke="#000" stroke-width="1.0" />
<line x1="168.20" y1="262.32" x2="172.20" y2="262.32" stroke="#000" stroke-width="1.0" />
<rect x="167.25" y="267.51" width="5.90" height="51.79" fill="#555" stroke="#000" stroke-width="1"/>
<line x1="177.10" y1="281.78" x2="177.10" y2="279.33" stroke="#000" stroke-width="1.0" />
<line x1="175.10" y1="279.33" x2="179.10" y2="279.33" stroke="#000" stroke-width="1.0" />
<rect x="174.15" y="282.28" width="5.90" height="37.02" fill="#000" stroke="#000" stroke-width="1"/>
<line x1="198.10" y1="319.30" x2="198.10" y2="322.30" stroke="#000" stroke-width="1.0" />
<text x="198.10" y="330.60" font-size="8.4" text-anchor="middle" font-weight="bold" fill="#000" textLength="7.50" lengthAdjust="spacingAndGlyphs">24</text>
<line x1="191.20" y1="224.10" x2="191.20" y2="214.79" stroke="#000" stroke-width="1.0" />
<line x1="189.20" y1="214.79" x2="193.20" y2="214.79" stroke="#000" stroke-width="1.0" />
<rect x="188.25" y="224.60" width="5.90" height="94.70" fill="#9a9a9a" stroke="#000" stroke-width="1"/>
<line x1="198.10" y1="261.69" x2="198.10" y2="256.23" stroke="#000" stroke-width="1.0" />
<line x1="196.10" y1="256.23" x2="200.10" y2="256.23" stroke="#000" stroke-width="1.0" />
<rect x="195.15" y="262.19" width="5.90" height="57.11" fill="#555" stroke="#000" stroke-width="1"/>
<line x1="205.00" y1="280.87" x2="205.00" y2="276.53" stroke="#000" stroke-width="1.0" />
<line x1="203.00" y1="276.53" x2="207.00" y2="276.53" stroke="#000" stroke-width="1.0" />
<rect x="202.05" y="281.37" width="5.90" height="37.93" fill="#000" stroke="#000" stroke-width="1"/>
<text x="128.20" y="343.40" font-size="9.9" text-anchor="middle" font-weight="bold" fill="#000" textLength="102.4" lengthAdjust="spacingAndGlyphs">Time after treatment (h)</text>
<text x="0.00" y="0.00" font-size="9.4" text-anchor="middle" font-weight="normal" fill="#000" transform="translate(22.6,261.8) rotate(-90)" textLength="95" lengthAdjust="spacingAndGlyphs">pBAD as % of control</text>
<rect x="85.3" y="360.30" width="12.0" height="5.2" fill="#9a9a9a" stroke="#000" stroke-width="1"/>
<text x="104.00" y="365.10" font-size="8.7" text-anchor="start" font-weight="bold" fill="#000" textLength="66.0" lengthAdjust="spacingAndGlyphs">3 mg/kg AZD1208</text>
<rect x="85.3" y="372.70" width="12.0" height="5.2" fill="#555" stroke="#000" stroke-width="1"/>
<text x="104.00" y="377.50" font-size="8.7" text-anchor="start" font-weight="bold" fill="#000" textLength="70.2" lengthAdjust="spacingAndGlyphs">10 mg/kg AZD1208</text>
<rect x="85.3" y="385.10" width="12.0" height="5.2" fill="#000" stroke="#000" stroke-width="1"/>
<text x="104.00" y="390.00" font-size="8.7" text-anchor="start" font-weight="bold" fill="#000" textLength="70.2" lengthAdjust="spacingAndGlyphs">30 mg/kg AZD1208</text>
<text x="234.80" y="102.80" font-size="12" text-anchor="start" font-weight="bold" fill="#000" >D</text>
<line x1="279.30" y1="96.00" x2="279.30" y2="233.00" stroke="#000" stroke-width="1.1" />
<line x1="272.00" y1="233.00" x2="279.30" y2="233.00" stroke="#999" stroke-width="1.0" />
<text x="270.00" y="235.20" font-size="6.4" text-anchor="end" font-weight="bold" fill="#000" >0</text>
<line x1="275.60" y1="219.34" x2="279.30" y2="219.34" stroke="#aaa" stroke-width="0.9" />
<line x1="272.00" y1="205.68" x2="279.30" y2="205.68" stroke="#999" stroke-width="1.0" />
<text x="270.00" y="207.88" font-size="6.4" text-anchor="end" font-weight="bold" fill="#000" >20</text>
<line x1="275.60" y1="192.02" x2="279.30" y2="192.02" stroke="#aaa" stroke-width="0.9" />
<line x1="272.00" y1="178.36" x2="279.30" y2="178.36" stroke="#999" stroke-width="1.0" />
<text x="270.00" y="180.56" font-size="6.4" text-anchor="end" font-weight="bold" fill="#000" >40</text>
<line x1="275.60" y1="164.70" x2="279.30" y2="164.70" stroke="#aaa" stroke-width="0.9" />
<line x1="272.00" y1="151.04" x2="279.30" y2="151.04" stroke="#999" stroke-width="1.0" />
<text x="270.00" y="153.24" font-size="6.4" text-anchor="end" font-weight="bold" fill="#000" >60</text>
<line x1="275.60" y1="137.38" x2="279.30" y2="137.38" stroke="#aaa" stroke-width="0.9" />
<line x1="272.00" y1="123.72" x2="279.30" y2="123.72" stroke="#999" stroke-width="1.0" />
<text x="270.00" y="125.92" font-size="6.4" text-anchor="end" font-weight="bold" fill="#000" >80</text>
<line x1="275.60" y1="110.06" x2="279.30" y2="110.06" stroke="#aaa" stroke-width="0.9" />
<line x1="272.00" y1="96.40" x2="279.30" y2="96.40" stroke="#999" stroke-width="1.0" />
<text x="270.00" y="98.60" font-size="6.4" text-anchor="end" font-weight="bold" fill="#000" >100</text>
<line x1="279.30" y1="233.00" x2="480.00" y2="233.00" stroke="#000" stroke-width="1.2" />
<line x1="279.30" y1="233.00" x2="279.30" y2="238.00" stroke="#777" stroke-width="1.0" />
<text x="279.30" y="246.40" font-size="6.4" text-anchor="middle" font-weight="bold" fill="#000" >1</text>
<line x1="295.55" y1="233.00" x2="295.55" y2="236.00" stroke="#777" stroke-width="0.8" />
<line x1="305.05" y1="233.00" x2="305.05" y2="236.00" stroke="#777" stroke-width="0.8" />
<line x1="311.79" y1="233.00" x2="311.79" y2="236.00" stroke="#777" stroke-width="0.8" />
<line x1="317.02" y1="233.00" x2="317.02" y2="236.00" stroke="#777" stroke-width="0.8" />
<line x1="321.30" y1="233.00" x2="321.30" y2="236.00" stroke="#777" stroke-width="0.8" />
<line x1="324.91" y1="233.00" x2="324.91" y2="236.00" stroke="#777" stroke-width="0.8" />
<line x1="328.04" y1="233.00" x2="328.04" y2="236.00" stroke="#777" stroke-width="0.8" />
<line x1="330.80" y1="233.00" x2="330.80" y2="236.00" stroke="#777" stroke-width="0.8" />
<line x1="333.27" y1="233.00" x2="333.27" y2="238.00" stroke="#777" stroke-width="1.0" />
<text x="333.27" y="246.40" font-size="6.4" text-anchor="middle" font-weight="bold" fill="#000" >10</text>
<line x1="349.52" y1="233.00" x2="349.52" y2="236.00" stroke="#777" stroke-width="0.8" />
<line x1="359.02" y1="233.00" x2="359.02" y2="236.00" stroke="#777" stroke-width="0.8" />
<line x1="365.76" y1="233.00" x2="365.76" y2="236.00" stroke="#777" stroke-width="0.8" />
<line x1="370.99" y1="233.00" x2="370.99" y2="236.00" stroke="#777" stroke-width="0.8" />
<line x1="375.27" y1="233.00" x2="375.27" y2="236.00" stroke="#777" stroke-width="0.8" />
<line x1="378.88" y1="233.00" x2="378.88" y2="236.00" stroke="#777" stroke-width="0.8" />
<line x1="382.01" y1="233.00" x2="382.01" y2="236.00" stroke="#777" stroke-width="0.8" />
<line x1="384.77" y1="233.00" x2="384.77" y2="236.00" stroke="#777" stroke-width="0.8" />
<line x1="387.24" y1="233.00" x2="387.24" y2="238.00" stroke="#777" stroke-width="1.0" />
<text x="387.24" y="246.40" font-size="6.4" text-anchor="middle" font-weight="bold" fill="#000" >100</text>
<line x1="403.49" y1="233.00" x2="403.49" y2="236.00" stroke="#777" stroke-width="0.8" />
<line x1="412.99" y1="233.00" x2="412.99" y2="236.00" stroke="#777" stroke-width="0.8" />
<line x1="419.73" y1="233.00" x2="419.73" y2="236.00" stroke="#777" stroke-width="0.8" />
<line x1="424.96" y1="233.00" x2="424.96" y2="236.00" stroke="#777" stroke-width="0.8" />
<line x1="429.24" y1="233.00" x2="429.24" y2="236.00" stroke="#777" stroke-width="0.8" />
<line x1="432.85" y1="233.00" x2="432.85" y2="236.00" stroke="#777" stroke-width="0.8" />
<line x1="435.98" y1="233.00" x2="435.98" y2="236.00" stroke="#777" stroke-width="0.8" />
<line x1="438.74" y1="233.00" x2="438.74" y2="236.00" stroke="#777" stroke-width="0.8" />
<line x1="441.21" y1="233.00" x2="441.21" y2="238.00" stroke="#777" stroke-width="1.0" />
<text x="441.21" y="246.40" font-size="6.4" text-anchor="middle" font-weight="bold" fill="#000" >1000</text>
<line x1="457.46" y1="233.00" x2="457.46" y2="236.00" stroke="#777" stroke-width="0.8" />
<line x1="466.96" y1="233.00" x2="466.96" y2="236.00" stroke="#777" stroke-width="0.8" />
<line x1="473.70" y1="233.00" x2="473.70" y2="236.00" stroke="#777" stroke-width="0.8" />
<line x1="478.93" y1="233.00" x2="478.93" y2="236.00" stroke="#777" stroke-width="0.8" />
<text x="378.50" y="257.40" font-size="6.1" text-anchor="middle" font-weight="bold" fill="#000" textLength="87.5" lengthAdjust="spacing">Plasma [AZD1208] (ng/mL)</text>
<text x="0.00" y="0.00" font-size="5.9" text-anchor="middle" font-weight="bold" fill="#000" transform="translate(251.9,165.2) rotate(-90)" textLength="61" lengthAdjust="spacing">pBAD inhibition (%)</text>
<line x1="279.30" y1="165.10" x2="408.70" y2="165.10" stroke="#444" stroke-width="0.9" stroke-dasharray="1,1"/>
<line x1="408.70" y1="165.10" x2="408.70" y2="233.00" stroke="#777" stroke-width="0.8" stroke-dasharray="1,0.8"/>
<polyline points="312.76,229.35 314.28,229.11 315.81,228.85 317.33,228.59 318.85,228.30 320.37,228.00 321.89,227.68 323.42,227.34 324.94,226.98 326.46,226.60 327.98,226.19 329.50,225.76 331.02,225.31 332.55,224.83 334.07,224.33 335.59,223.79 337.11,223.23 338.63,222.64 340.16,222.02 341.68,221.36 343.20,220.67 344.72,219.94 346.24,219.18 347.77,218.38 349.29,217.55 350.81,216.68 352.33,215.76 353.85,214.81 355.38,213.82 356.90,212.79 358.42,211.71 359.94,210.60 361.46,209.45 362.99,208.25 364.51,207.02 366.03,205.75 367.55,204.44 369.07,203.09 370.60,201.71 372.12,200.30 373.64,198.85 375.16,197.38 376.68,195.88 378.21,194.35 379.73,192.81 381.25,191.24 382.77,189.67 384.29,188.08 385.82,186.48 387.34,184.87 388.86,183.27 390.38,181.66 391.90,180.06 393.42,178.47 394.95,176.89 396.47,175.33 397.99,173.78 399.51,172.26 401.03,170.76 402.56,169.28 404.08,167.84 405.60,166.43 407.12,165.04 408.64,163.70 410.17,162.39 411.69,161.12 413.21,159.88 414.73,158.69 416.25,157.53 417.78,156.42 419.30,155.35 420.82,154.31 422.34,153.32 423.86,152.37 425.39,151.46 426.91,150.58 428.43,149.75 429.95,148.95 431.47,148.19 433.00,147.46 434.52,146.77 436.04,146.12 437.56,145.49 439.08,144.90 440.61,144.34 442.13,143.80 443.65,143.30 445.17,142.82 446.69,142.37 448.22,141.94 449.74,141.53 451.26,141.15 452.78,140.79 454.30,140.45 455.83,140.13 457.35,139.83 458.87,139.54 460.39,139.27 461.91,139.02 463.43,138.78 464.96,138.56" fill="none" stroke="#000" stroke-width="1.3" stroke-linejoin="round" />
<circle cx="394.90" cy="141.10" r="1.4" fill="#000"/>
<circle cx="401.30" cy="142.10" r="1.4" fill="#000"/>
<circle cx="402.20" cy="141.60" r="1.4" fill="#000"/>
<circle cx="405.60" cy="141.80" r="1.4" fill="#000"/>
<circle cx="402.30" cy="149.90" r="1.4" fill="#000"/>
<circle cx="388.10" cy="153.90" r="1.4" fill="#000"/>
<circle cx="418.00" cy="161.60" r="1.4" fill="#000"/>
<circle cx="403.70" cy="164.60" r="1.4" fill="#000"/>
<circle cx="385.40" cy="167.00" r="1.4" fill="#000"/>
<circle cx="392.00" cy="171.00" r="1.4" fill="#000"/>
<circle cx="394.60" cy="173.80" r="1.4" fill="#000"/>
<circle cx="386.00" cy="177.70" r="1.4" fill="#000"/>
<circle cx="393.00" cy="177.70" r="1.4" fill="#000"/>
<circle cx="406.70" cy="179.50" r="1.4" fill="#000"/>
<circle cx="418.40" cy="183.50" r="1.4" fill="#000"/>
<circle cx="368.80" cy="187.80" r="1.4" fill="#000"/>
<circle cx="382.80" cy="189.00" r="1.4" fill="#000"/>
<circle cx="372.10" cy="194.20" r="1.4" fill="#000"/>
<circle cx="386.60" cy="195.80" r="1.4" fill="#000"/>
<circle cx="396.30" cy="195.20" r="1.4" fill="#000"/>
<circle cx="372.50" cy="201.40" r="1.4" fill="#000"/>
<circle cx="378.10" cy="216.30" r="1.4" fill="#000"/>
<circle cx="390.20" cy="217.00" r="1.4" fill="#000"/>
<circle cx="326.60" cy="220.20" r="1.4" fill="#000"/>
<circle cx="332.10" cy="216.20" r="1.4" fill="#000"/>
<circle cx="349.60" cy="228.50" r="1.4" fill="#000"/>
<circle cx="357.00" cy="223.70" r="1.4" fill="#000"/>
<circle cx="446.80" cy="124.20" r="1.4" fill="#000"/>
<circle cx="450.30" cy="126.10" r="1.4" fill="#000"/>
<circle cx="432.10" cy="130.40" r="1.4" fill="#000"/>
<circle cx="436.60" cy="130.40" r="1.4" fill="#000"/>
<circle cx="422.50" cy="135.90" r="1.4" fill="#000"/>
<circle cx="421.40" cy="137.80" r="1.4" fill="#000"/>
<circle cx="443.80" cy="136.10" r="1.4" fill="#000"/>
<circle cx="458.10" cy="135.40" r="1.4" fill="#000"/>
<circle cx="459.90" cy="135.40" r="1.4" fill="#000"/>
<circle cx="464.80" cy="138.80" r="1.4" fill="#000"/>
<circle cx="426.00" cy="141.60" r="1.4" fill="#000"/>
<circle cx="435.90" cy="141.30" r="1.4" fill="#000"/>
<circle cx="441.30" cy="140.20" r="1.4" fill="#000"/>
<circle cx="436.80" cy="144.90" r="1.4" fill="#000"/>
<circle cx="442.50" cy="143.50" r="1.4" fill="#000"/>
<circle cx="455.60" cy="143.80" r="1.4" fill="#000"/>
<circle cx="453.90" cy="146.30" r="1.4" fill="#000"/>
<circle cx="460.60" cy="147.50" r="1.4" fill="#000"/>
<circle cx="427.80" cy="149.20" r="1.4" fill="#000"/>
<circle cx="431.40" cy="148.70" r="1.4" fill="#000"/>
<circle cx="426.80" cy="153.70" r="1.4" fill="#000"/>
<circle cx="442.80" cy="151.00" r="1.4" fill="#000"/>
<circle cx="435.90" cy="155.60" r="1.4" fill="#000"/>
<circle cx="437.10" cy="154.90" r="1.4" fill="#000"/>
<circle cx="467.00" cy="155.90" r="1.4" fill="#000"/>
<circle cx="437.40" cy="167.00" r="1.4" fill="#000"/>
<circle cx="430.30" cy="191.50" r="1.4" fill="#000"/>
<text x="410.4" y="208.3" font-size="8.35" font-weight="bold">IC<tspan font-size="5.4" dy="2.2">50</tspan><tspan dy="-2.2"> = 241 ng/mL</tspan></text>
<text x="235.80" y="270.80" font-size="12.5" text-anchor="start" font-weight="bold" fill="#000" >E</text>
<line x1="285.70" y1="276.00" x2="285.70" y2="397.50" stroke="#aaa" stroke-width="1.3" />
<line x1="283.60" y1="397.50" x2="285.70" y2="397.50" stroke="#aaa" stroke-width="1.0" />
<text x="281.00" y="399.90" font-size="6.5" text-anchor="end" font-weight="bold" fill="#000" >0</text>
<line x1="283.60" y1="377.30" x2="285.70" y2="377.30" stroke="#aaa" stroke-width="1.0" />
<text x="281.00" y="379.70" font-size="6.5" text-anchor="end" font-weight="bold" fill="#000" >200</text>
<line x1="283.60" y1="357.10" x2="285.70" y2="357.10" stroke="#aaa" stroke-width="1.0" />
<text x="281.00" y="359.50" font-size="6.5" text-anchor="end" font-weight="bold" fill="#000" >400</text>
<line x1="283.60" y1="336.90" x2="285.70" y2="336.90" stroke="#aaa" stroke-width="1.0" />
<text x="281.00" y="339.30" font-size="6.5" text-anchor="end" font-weight="bold" fill="#000" >600</text>
<line x1="283.60" y1="316.70" x2="285.70" y2="316.70" stroke="#aaa" stroke-width="1.0" />
<text x="281.00" y="319.10" font-size="6.5" text-anchor="end" font-weight="bold" fill="#000" >800</text>
<line x1="283.60" y1="296.50" x2="285.70" y2="296.50" stroke="#aaa" stroke-width="1.0" />
<text x="281.00" y="298.90" font-size="6.5" text-anchor="end" font-weight="bold" fill="#000" >1000</text>
<line x1="283.60" y1="276.30" x2="285.70" y2="276.30" stroke="#aaa" stroke-width="1.0" />
<text x="281.00" y="278.70" font-size="6.5" text-anchor="end" font-weight="bold" fill="#000" >1200</text>
<line x1="285.70" y1="397.50" x2="490.60" y2="397.50" stroke="#aaa" stroke-width="1.3" />
<line x1="285.80" y1="397.50" x2="285.80" y2="399.60" stroke="#aaa" stroke-width="1.0" />
<text x="285.80" y="408.00" font-size="6.6" text-anchor="middle" font-weight="bold" fill="#000" >14</text>
<line x1="308.53" y1="397.50" x2="308.53" y2="399.60" stroke="#aaa" stroke-width="1.0" />
<text x="308.53" y="408.00" font-size="6.6" text-anchor="middle" font-weight="bold" fill="#000" >18</text>
<line x1="331.26" y1="397.50" x2="331.26" y2="399.60" stroke="#aaa" stroke-width="1.0" />
<text x="331.26" y="408.00" font-size="6.6" text-anchor="middle" font-weight="bold" fill="#000" >22</text>
<line x1="354.00" y1="397.50" x2="354.00" y2="399.60" stroke="#aaa" stroke-width="1.0" />
<text x="354.00" y="408.00" font-size="6.6" text-anchor="middle" font-weight="bold" fill="#000" >26</text>
<line x1="376.73" y1="397.50" x2="376.73" y2="399.60" stroke="#aaa" stroke-width="1.0" />
<text x="376.73" y="408.00" font-size="6.6" text-anchor="middle" font-weight="bold" fill="#000" >30</text>
<line x1="399.46" y1="397.50" x2="399.46" y2="399.60" stroke="#aaa" stroke-width="1.0" />
<text x="399.46" y="408.00" font-size="6.6" text-anchor="middle" font-weight="bold" fill="#000" >34</text>
<line x1="422.19" y1="397.50" x2="422.19" y2="399.60" stroke="#aaa" stroke-width="1.0" />
<text x="422.19" y="408.00" font-size="6.6" text-anchor="middle" font-weight="bold" fill="#000" >38</text>
<line x1="444.92" y1="397.50" x2="444.92" y2="399.60" stroke="#aaa" stroke-width="1.0" />
<text x="444.92" y="408.00" font-size="6.6" text-anchor="middle" font-weight="bold" fill="#000" >42</text>
<line x1="467.66" y1="397.50" x2="467.66" y2="399.60" stroke="#aaa" stroke-width="1.0" />
<text x="467.66" y="408.00" font-size="6.6" text-anchor="middle" font-weight="bold" fill="#000" >46</text>
<line x1="490.39" y1="397.50" x2="490.39" y2="399.60" stroke="#aaa" stroke-width="1.0" />
<text x="490.39" y="408.00" font-size="6.6" text-anchor="middle" font-weight="bold" fill="#000" >50</text>
<text x="388.50" y="418.80" font-size="8.4" text-anchor="middle" font-weight="bold" fill="#000" >Days Post Implant</text>
<text transform="translate(261.0,336) rotate(-90)" font-size="8.3" font-weight="bold" text-anchor="middle">Tumor Volume (mm<tspan font-size="5.5" dy="-3">3</tspan><tspan dy="3">)</tspan></text>
<line x1="331.26" y1="369.93" x2="331.26" y2="371.95" stroke="#444" stroke-width="0.8" />
<line x1="330.26" y1="369.93" x2="332.26" y2="369.93" stroke="#444" stroke-width="0.8" />
<line x1="330.26" y1="371.95" x2="332.26" y2="371.95" stroke="#444" stroke-width="0.8" />
<line x1="354.00" y1="359.22" x2="354.00" y2="363.26" stroke="#444" stroke-width="0.8" />
<line x1="353.00" y1="359.22" x2="355.00" y2="359.22" stroke="#444" stroke-width="0.8" />
<line x1="353.00" y1="363.26" x2="355.00" y2="363.26" stroke="#444" stroke-width="0.8" />
<line x1="371.05" y1="350.84" x2="371.05" y2="356.90" stroke="#444" stroke-width="0.8" />
<line x1="370.05" y1="350.84" x2="372.05" y2="350.84" stroke="#444" stroke-width="0.8" />
<line x1="370.05" y1="356.90" x2="372.05" y2="356.90" stroke="#444" stroke-width="0.8" />
<line x1="393.78" y1="314.88" x2="393.78" y2="328.01" stroke="#444" stroke-width="0.8" />
<line x1="392.78" y1="314.88" x2="394.78" y2="314.88" stroke="#444" stroke-width="0.8" />
<line x1="392.78" y1="328.01" x2="394.78" y2="328.01" stroke="#444" stroke-width="0.8" />
<line x1="427.88" y1="288.52" x2="427.88" y2="308.72" stroke="#444" stroke-width="0.8" />
<line x1="426.88" y1="288.52" x2="428.88" y2="288.52" stroke="#444" stroke-width="0.8" />
<line x1="426.88" y1="308.72" x2="428.88" y2="308.72" stroke="#444" stroke-width="0.8" />
<line x1="354.00" y1="374.98" x2="354.00" y2="377.00" stroke="#444" stroke-width="0.8" />
<line x1="353.00" y1="374.98" x2="355.00" y2="374.98" stroke="#444" stroke-width="0.8" />
<line x1="353.00" y1="377.00" x2="355.00" y2="377.00" stroke="#444" stroke-width="0.8" />
<line x1="371.05" y1="369.93" x2="371.05" y2="372.35" stroke="#444" stroke-width="0.8" />
<line x1="370.05" y1="369.93" x2="372.05" y2="369.93" stroke="#444" stroke-width="0.8" />
<line x1="370.05" y1="372.35" x2="372.05" y2="372.35" stroke="#444" stroke-width="0.8" />
<line x1="393.78" y1="362.76" x2="393.78" y2="365.79" stroke="#444" stroke-width="0.8" />
<line x1="392.78" y1="362.76" x2="394.78" y2="362.76" stroke="#444" stroke-width="0.8" />
<line x1="392.78" y1="365.79" x2="394.78" y2="365.79" stroke="#444" stroke-width="0.8" />
<line x1="427.88" y1="355.89" x2="427.88" y2="360.94" stroke="#444" stroke-width="0.8" />
<line x1="426.88" y1="355.89" x2="428.88" y2="355.89" stroke="#444" stroke-width="0.8" />
<line x1="426.88" y1="360.94" x2="428.88" y2="360.94" stroke="#444" stroke-width="0.8" />
<line x1="450.61" y1="343.06" x2="450.61" y2="351.14" stroke="#444" stroke-width="0.8" />
<line x1="449.61" y1="343.06" x2="451.61" y2="343.06" stroke="#444" stroke-width="0.8" />
<line x1="449.61" y1="351.14" x2="451.61" y2="351.14" stroke="#444" stroke-width="0.8" />
<line x1="473.34" y1="315.39" x2="473.34" y2="329.53" stroke="#444" stroke-width="0.8" />
<line x1="472.34" y1="315.39" x2="474.34" y2="315.39" stroke="#444" stroke-width="0.8" />
<line x1="472.34" y1="329.53" x2="474.34" y2="329.53" stroke="#444" stroke-width="0.8" />
<line x1="490.39" y1="310.94" x2="490.39" y2="325.08" stroke="#444" stroke-width="0.8" />
<line x1="489.39" y1="310.94" x2="491.39" y2="310.94" stroke="#444" stroke-width="0.8" />
<line x1="489.39" y1="325.08" x2="491.39" y2="325.08" stroke="#444" stroke-width="0.8" />
<line x1="371.05" y1="374.57" x2="371.05" y2="377.00" stroke="#444" stroke-width="0.8" />
<line x1="370.05" y1="374.57" x2="372.05" y2="374.57" stroke="#444" stroke-width="0.8" />
<line x1="370.05" y1="377.00" x2="372.05" y2="377.00" stroke="#444" stroke-width="0.8" />
<line x1="393.78" y1="365.08" x2="393.78" y2="368.11" stroke="#444" stroke-width="0.8" />
<line x1="392.78" y1="365.08" x2="394.78" y2="365.08" stroke="#444" stroke-width="0.8" />
<line x1="392.78" y1="368.11" x2="394.78" y2="368.11" stroke="#444" stroke-width="0.8" />
<line x1="427.88" y1="364.07" x2="427.88" y2="368.11" stroke="#444" stroke-width="0.8" />
<line x1="426.88" y1="364.07" x2="428.88" y2="364.07" stroke="#444" stroke-width="0.8" />
<line x1="426.88" y1="368.11" x2="428.88" y2="368.11" stroke="#444" stroke-width="0.8" />
<line x1="450.61" y1="337.10" x2="450.61" y2="345.18" stroke="#444" stroke-width="0.8" />
<line x1="449.61" y1="337.10" x2="451.61" y2="337.10" stroke="#444" stroke-width="0.8" />
<line x1="449.61" y1="345.18" x2="451.61" y2="345.18" stroke="#444" stroke-width="0.8" />
<line x1="473.34" y1="314.38" x2="473.34" y2="330.54" stroke="#444" stroke-width="0.8" />
<line x1="472.34" y1="314.38" x2="474.34" y2="314.38" stroke="#444" stroke-width="0.8" />
<line x1="472.34" y1="330.54" x2="474.34" y2="330.54" stroke="#444" stroke-width="0.8" />
<line x1="490.39" y1="291.75" x2="490.39" y2="315.99" stroke="#444" stroke-width="0.8" />
<line x1="489.39" y1="291.75" x2="491.39" y2="291.75" stroke="#444" stroke-width="0.8" />
<line x1="489.39" y1="315.99" x2="491.39" y2="315.99" stroke="#444" stroke-width="0.8" />
<line x1="427.88" y1="378.21" x2="427.88" y2="380.23" stroke="#444" stroke-width="0.8" />
<line x1="426.88" y1="378.21" x2="428.88" y2="378.21" stroke="#444" stroke-width="0.8" />
<line x1="426.88" y1="380.23" x2="428.88" y2="380.23" stroke="#444" stroke-width="0.8" />
<line x1="450.61" y1="369.83" x2="450.61" y2="373.87" stroke="#444" stroke-width="0.8" />
<line x1="449.61" y1="369.83" x2="451.61" y2="369.83" stroke="#444" stroke-width="0.8" />
<line x1="449.61" y1="373.87" x2="451.61" y2="373.87" stroke="#444" stroke-width="0.8" />
<line x1="473.34" y1="359.83" x2="473.34" y2="364.88" stroke="#444" stroke-width="0.8" />
<line x1="472.34" y1="359.83" x2="474.34" y2="359.83" stroke="#444" stroke-width="0.8" />
<line x1="472.34" y1="364.88" x2="474.34" y2="364.88" stroke="#444" stroke-width="0.8" />
<line x1="490.39" y1="352.56" x2="490.39" y2="360.63" stroke="#444" stroke-width="0.8" />
<line x1="489.39" y1="352.56" x2="491.39" y2="352.56" stroke="#444" stroke-width="0.8" />
<line x1="489.39" y1="360.63" x2="491.39" y2="360.63" stroke="#444" stroke-width="0.8" />
<polyline points="285.80,383.16 308.53,381.44 331.26,370.94 354.00,361.24 371.05,353.87 393.78,321.45 427.88,298.62" fill="none" stroke="#000" stroke-width="1.15" stroke-linejoin="round" />
<polyline points="285.80,383.16 308.53,382.35 331.26,379.82 354.00,375.99 371.05,371.14 393.78,364.27 427.88,358.41 450.61,347.10 473.34,322.46 490.39,318.01" fill="none" stroke="#000" stroke-width="1.15" stroke-linejoin="round" />
<polyline points="285.80,383.16 308.53,382.35 331.26,380.33 354.00,382.15 371.05,375.79 393.78,366.59 427.88,366.09 450.61,341.14 473.34,322.46 490.39,303.87" fill="none" stroke="#000" stroke-width="1.15" stroke-linejoin="round" />
<polyline points="285.80,383.16 308.53,383.26 331.26,385.48 354.00,382.15 371.05,379.82 393.78,380.33 427.88,379.22 450.61,371.85 473.34,362.35 490.39,356.60" fill="none" stroke="#000" stroke-width="1.15" stroke-linejoin="round" />
<circle cx="285.80" cy="383.16" r="2.30" fill="#222"/>
<circle cx="308.53" cy="383.26" r="2.30" fill="#222"/>
<circle cx="331.26" cy="385.48" r="2.30" fill="#222"/>
<circle cx="354.00" cy="382.15" r="2.30" fill="#222"/>
<circle cx="371.05" cy="379.82" r="2.30" fill="#222"/>
<circle cx="393.78" cy="380.33" r="2.30" fill="#222"/>
<circle cx="427.88" cy="379.22" r="2.30" fill="#222"/>
<circle cx="450.61" cy="371.85" r="2.30" fill="#222"/>
<circle cx="473.34" cy="362.35" r="2.30" fill="#222"/>
<circle cx="490.39" cy="356.60" r="2.30" fill="#222"/>
<circle cx="285.80" cy="383.16" r="1.80" fill="none" stroke="#000" stroke-width="0.9"/>
<circle cx="308.53" cy="382.35" r="1.80" fill="none" stroke="#000" stroke-width="0.9"/>
<circle cx="331.26" cy="380.33" r="1.80" fill="none" stroke="#000" stroke-width="0.9"/>
<circle cx="354.00" cy="382.15" r="1.80" fill="none" stroke="#000" stroke-width="0.9"/>
<circle cx="371.05" cy="375.79" r="1.80" fill="none" stroke="#000" stroke-width="0.9"/>
<circle cx="393.78" cy="366.59" r="1.80" fill="none" stroke="#000" stroke-width="0.9"/>
<circle cx="427.88" cy="366.09" r="1.80" fill="none" stroke="#000" stroke-width="0.9"/>
<circle cx="450.61" cy="341.14" r="1.80" fill="none" stroke="#000" stroke-width="0.9"/>
<circle cx="473.34" cy="322.46" r="1.80" fill="none" stroke="#000" stroke-width="0.9"/>
<circle cx="490.39" cy="303.87" r="1.80" fill="none" stroke="#000" stroke-width="0.9"/>
<rect x="284.15" y="381.51" width="3.30" height="3.30" fill="none" stroke="#000" stroke-width="0.9"/>
<rect x="306.88" y="380.70" width="3.30" height="3.30" fill="none" stroke="#000" stroke-width="0.9"/>
<rect x="329.61" y="378.17" width="3.30" height="3.30" fill="none" stroke="#000" stroke-width="0.9"/>
<rect x="352.35" y="374.34" width="3.30" height="3.30" fill="none" stroke="#000" stroke-width="0.9"/>
<rect x="369.39" y="369.49" width="3.30" height="3.30" fill="none" stroke="#000" stroke-width="0.9"/>
<rect x="392.13" y="362.62" width="3.30" height="3.30" fill="none" stroke="#000" stroke-width="0.9"/>
<rect x="426.22" y="356.76" width="3.30" height="3.30" fill="none" stroke="#000" stroke-width="0.9"/>
<rect x="448.96" y="345.45" width="3.30" height="3.30" fill="none" stroke="#000" stroke-width="0.9"/>
<rect x="471.69" y="320.81" width="3.30" height="3.30" fill="none" stroke="#000" stroke-width="0.9"/>
<rect x="488.74" y="316.36" width="3.30" height="3.30" fill="none" stroke="#000" stroke-width="0.9"/>
<rect x="283.70" y="381.06" width="4.20" height="4.20" fill="#000"/>
<rect x="306.43" y="379.34" width="4.20" height="4.20" fill="#000"/>
<rect x="329.16" y="368.84" width="4.20" height="4.20" fill="#000"/>
<rect x="351.90" y="359.14" width="4.20" height="4.20" fill="#000"/>
<rect x="368.94" y="351.77" width="4.20" height="4.20" fill="#000"/>
<rect x="391.68" y="319.35" width="4.20" height="4.20" fill="#000"/>
<rect x="425.77" y="296.52" width="4.20" height="4.20" fill="#000"/>
<circle cx="495.2" cy="356.5" r="1.15" fill="#000"/><circle cx="498.8" cy="356.5" r="1.15" fill="#000"/>
<line x1="290.50" y1="278.80" x2="304.30" y2="278.80" stroke="#000" stroke-width="1.0" />
<rect x="295.10" y="276.40" width="4.80" height="4.80" fill="#000"/>
<text x="311.20" y="281.30" font-size="6.9" text-anchor="start" font-weight="bold" fill="#000" >Vehicle</text>
<line x1="290.50" y1="288.73" x2="304.30" y2="288.73" stroke="#000" stroke-width="1.0" />
<rect x="295.55" y="286.78" width="3.90" height="3.90" fill="none" stroke="#000" stroke-width="0.9"/>
<text x="311.20" y="291.23" font-size="6.9" text-anchor="start" font-weight="bold" fill="#000" >Cytarabine - 30 mg/kg QDx2/wk</text>
<line x1="290.50" y1="298.66" x2="304.30" y2="298.66" stroke="#000" stroke-width="1.0" />
<circle cx="297.50" cy="298.66" r="2.10" fill="none" stroke="#000" stroke-width="0.9"/>
<text x="311.20" y="301.16" font-size="6.9" text-anchor="start" font-weight="bold" fill="#000" >AZD1208 - 30 mg/kg QD</text>
<line x1="290.50" y1="308.59" x2="304.30" y2="308.59" stroke="#000" stroke-width="1.0" />
<circle cx="297.50" cy="308.59" r="2.60" fill="#222"/>
<text x="311.20" y="311.09" font-size="6.9" text-anchor="start" font-weight="bold" fill="#000" >Cytarabine + AZD1208</text>
</svg>
</body></html>
